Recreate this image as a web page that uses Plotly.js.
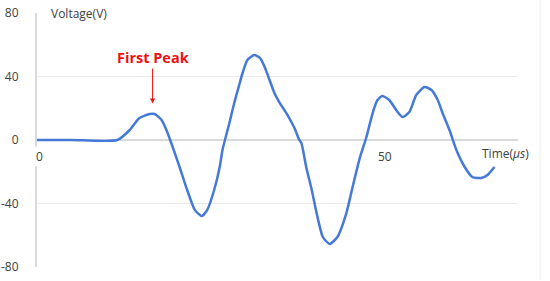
<!DOCTYPE html>
<html>
<head>
<meta charset="utf-8">
<script src="https://cdn.plot.ly/plotly-3.0.1.min.js"></script>
<style>html,body{margin:0;padding:0;background:#fff;}#chart{width:550px;height:281px;}</style>
</head>
<body>
<div id="chart"></div>
<script>
// Time (µs)
const timeUs = [0, 5, 11.6, 13.4, 14.8, 16.3, 17.0, 18.0, 18.7, 19.4, 20.6, 21.7, 22.8, 23.8, 24.6, 25.6, 26.4, 26.8, 27.8, 28.5, 29.3, 29.7, 30.4, 31.4, 32.2, 32.9, 33.6, 34.3, 35.0, 36.2, 37.2, 37.9, 38.2, 38.9, 39.7, 40.4, 41.3, 42.3, 43.4, 44.7, 45.6, 46.6, 47.6, 48.5, 49.2, 49.9, 50.9, 51.9, 52.8, 53.8, 54.8, 56.0, 57.0, 57.9, 58.6, 59.6, 60.6, 61.8, 62.9, 64.2, 65.1, 66.1];
// Voltage (V)
const voltageV = [0, 0, 0, 6.3, 13.9, 16.4, 16.4, 12.6, 6.3, -1.9, -17, -31.5, -44, -47.9, -44, -31.5, -17, -6.3, 10.7, 23.3, 35.9, 42.2, 50.4, 53.5, 51.7, 46, 37.8, 29.6, 23.9, 15.7, 7.6, 0, -1.9, -17, -31.5, -46, -61.1, -65.5, -61.1, -46, -29.6, -12, 1.9, 17, 25.2, 27.7, 25.2, 18.9, 14.5, 17.6, 28.3, 33.4, 31.5, 25.2, 17, 6.3, -6.3, -17, -23.3, -23.9, -22, -17];
const yTicks = [-80, -40, 0, 40, 80];
const xTicks = [0, 50];
const yTitle = 'Voltage(V)';
const xTitle = 'Time(<i>μs</i>)';
const peakLabel = 'First Peak';
const peakPoint = [16.7, 23];

const font = {family: 'Open Sans, Noto Sans, sans-serif', size: 12, color: '#404040'};

const trace = {
  x: timeUs, y: voltageV, type: 'scatter', mode: 'lines',
  line: {color: '#4579d8', width: 2.5, shape: 'spline', smoothing: 0.6},
  hoverinfo: 'skip'
};

const xTickAnns = xTicks.map(v => ({
  x: v, y: 0, xref: 'x', yref: 'y', text: String(v), showarrow: false,
  xanchor: 'center', yanchor: 'top', yshift: -6, xshift: 2, font: font, bgcolor: '#fff'
}));

const layout = {
  width: 550, height: 281,
  margin: {l: 37, r: 32, t: 13, b: 14},
  paper_bgcolor: '#fff', plot_bgcolor: '#fff',
  showlegend: false,
  font: font,
  xaxis: {
    range: [0, 69.5], showticklabels: false,
    showgrid: false, zeroline: false, showline: false, ticks: ''
  },
  yaxis: {
    range: [-80, 80], tickvals: yTicks, ticktext: yTicks.map(String),
    showgrid: true, gridcolor: '#ebebeb', gridwidth: 1,
    zeroline: true, zerolinecolor: '#d9d9d9', zerolinewidth: 1.5,
    showline: true, linecolor: '#d9d9d9', linewidth: 2,
    ticks: '', ticklabelstandoff: 14, tickfont: font
  },
  shapes: [
    {type: 'line', xref: 'paper', yref: 'paper', x0: 1.046, x1: 1.046, y0: -0.05, y1: 1.05, line: {color: '#eeeeee', width: 1}}
  ],
  annotations: xTickAnns.concat([
    {xref: 'paper', yref: 'paper', x: 0.025, y: 1.0, xanchor: 'left', yanchor: 'middle', text: yTitle, showarrow: false, font: font, bgcolor: '#fff'},
    {x: 64, y: -2, xref: 'x', yref: 'y', xanchor: 'left', yanchor: 'top', text: xTitle, showarrow: false, font: font},
    {x: peakPoint[0], y: peakPoint[1], xref: 'x', yref: 'y', text: '<b>' + peakLabel + '</b>',
     showarrow: true, arrowhead: 2, arrowsize: 1, arrowwidth: 1, arrowcolor: '#ee1111',
     ax: 0, ay: -46, font: {family: 'Open Sans, Noto Sans, sans-serif', size: 14.5, color: '#ee1111'}}
  ])
};

Plotly.newPlot('chart', [trace], layout, {staticPlot: true, displayModeBar: false});
</script>
</body>
</html>
